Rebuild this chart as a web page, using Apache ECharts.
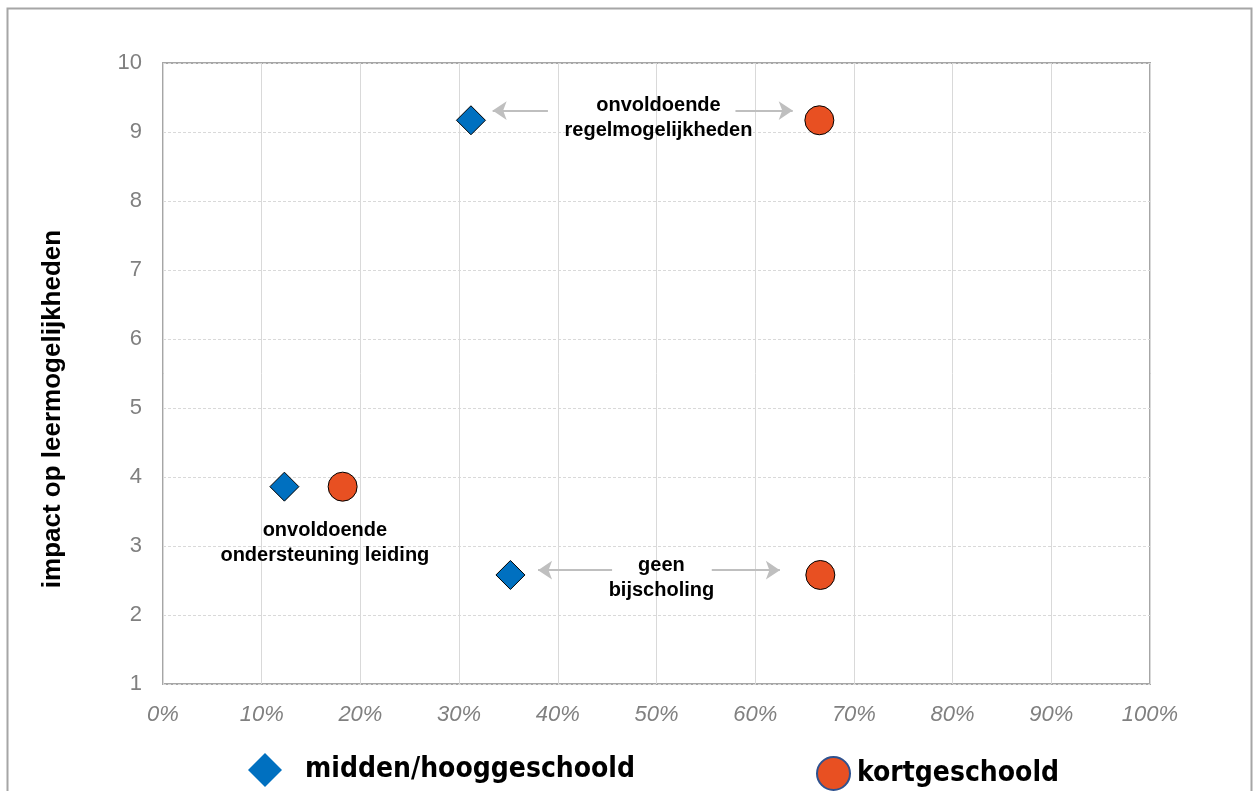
<!DOCTYPE html>
<html><head><meta charset="utf-8">
<script src="https://cdn.jsdelivr.net/npm/echarts@6/dist/echarts.min.js"></script>
<style>html,body{margin:0;padding:0;background:#fff}#c{width:1260px;height:791px}</style>
</head><body><div id="c"></div>
<script>
const seriesNames = ['midden/hooggeschoold', 'kortgeschoold'];
const middenHoog = [[0.312, 9.17], [0.123, 3.86], [0.352, 2.58]];
const kortGeschoold = [[0.665, 9.17], [0.182, 3.86], [0.666, 2.58]];
const annotationLabels = [
  {text: 'onvoldoende\nregelmogelijkheden', x: 0.502, y: 9.2},
  {text: 'onvoldoende\nondersteuning leiding', x: 0.164, y: 3.04},
  {text: 'geen\nbijscholing', x: 0.505, y: 2.53}
];
const arrows = [
  [[0.390, 9.31], [0.334, 9.31]],
  [[0.580, 9.31], [0.638, 9.31]],
  [[0.455, 2.65], [0.380, 2.65]],
  [[0.556, 2.65], [0.625, 2.65]]
];
const yTitle = 'impact op leermogelijkheden';

const chart = echarts.init(document.getElementById('c'));
const font = 'Liberation Sans, Arial, sans-serif';
const narrow = 'Liberation Sans Narrow, DejaVu Sans Condensed, Liberation Sans, sans-serif';
chart.setOption({
  animation: false,
  backgroundColor: '#fff',
  graphic: [
    {type: 'rect', shape: {x: 7.5, y: 8.5, width: 1244, height: 800}, style: {fill: 'none', stroke: '#A6A6A6', lineWidth: 2}, silent: true},
    {type: 'text', x: 53, y: 409, rotation: Math.PI / 2, style: {text: yTitle, font: 'bold 26px ' + font, fill: '#000', align: 'center', verticalAlign: 'middle'}}
  ],
  grid: {left: 163, top: 63, right: 110, bottom: 107, show: true, borderColor: '#A6A6A6', borderWidth: 2},
  xAxis: {
    type: 'value', min: 0, max: 1, interval: 0.1,
    axisLine: {show: false}, axisTick: {show: false},
    splitLine: {show: true, lineStyle: {color: '#D9D9D9', type: 'solid', width: 1}},
    axisLabel: {formatter: v => Math.round(v * 100) + '%', color: '#808080', fontSize: 22, fontStyle: 'italic', fontFamily: font, margin: 20}
  },
  yAxis: {
    type: 'value', min: 1, max: 10, interval: 1,
    axisLine: {show: false}, axisTick: {show: false},
    splitLine: {show: true, lineStyle: {color: '#D9D9D9', type: [3, 2], width: 1}},
    axisLabel: {color: '#808080', fontSize: 22, fontFamily: font, margin: 21}
  },
  legend: [
    {data: [seriesNames[0]], left: 243, top: 748, itemWidth: 34, itemHeight: 34, icon: 'diamond',
     itemStyle: {borderWidth: 0}, textStyle: {fontSize: 28, fontWeight: 'bold', fontFamily: narrow, color: '#000', padding: [0, 0, 0, 18]}},
    {data: [seriesNames[1]], left: 811, top: 751, itemWidth: 33, itemHeight: 33, icon: 'circle',
     itemStyle: {borderColor: '#2F528F', borderWidth: 2}, textStyle: {fontSize: 28, fontWeight: 'bold', fontFamily: narrow, color: '#000', padding: [0, 0, 0, 2]}}
  ],
  series: [
    {name: seriesNames[0], type: 'scatter', symbol: 'diamond', symbolSize: 29, data: middenHoog, z: 5,
     itemStyle: {color: '#0070C0', borderColor: '#000', borderWidth: 1, opacity: 1}},
    {name: seriesNames[1], type: 'scatter', symbol: 'circle', symbolSize: 29, data: kortGeschoold, z: 5,
     itemStyle: {color: '#E85022', borderColor: '#000', borderWidth: 1, opacity: 1}},
    {name: 'labels', type: 'scatter', symbolSize: 0, silent: true, z: 4,
     itemStyle: {opacity: 1, color: '#000'},
     data: annotationLabels.map(a => ({value: [a.x, a.y], label: {formatter: a.text}})),
     label: {show: true, position: 'inside', color: '#000', opacity: 1, fontSize: 20, fontWeight: 'bold', fontFamily: font, lineHeight: 25, align: 'center', verticalAlign: 'middle'},
     markLine: {silent: true, symbol: ['none', 'arrow'], symbolSize: [14, 14], label: {show: false},
       lineStyle: {color: '#BFBFBF', width: 2, type: 'solid', opacity: 1},
       data: arrows.map(a => [{coord: a[0]}, {coord: a[1]}])}
    }
  ]
});
</script></body></html>
